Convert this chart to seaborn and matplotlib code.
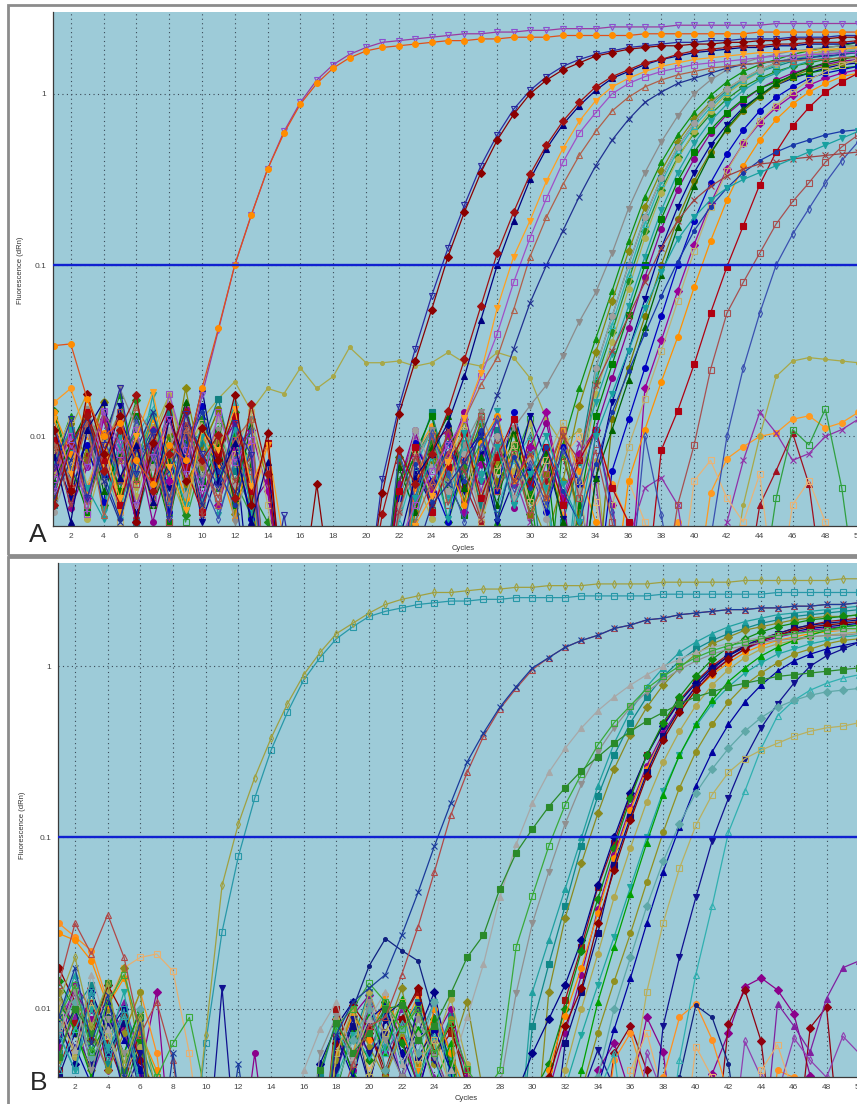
import numpy as np
import matplotlib
matplotlib.use("Agg")
import matplotlib.pyplot as plt
from matplotlib.patches import Rectangle
from matplotlib.ticker import MultipleLocator, FixedLocator, LogLocator, NullFormatter
import seaborn as sns

# values are log10(dRn) * 100; -300 means below the axis
# ---------------- panel A ----------------
a01 = [-147, -146, -178, -200, -192, -214, -228, -205, -214, -172,
       -137, -100, -71, -44, -23, -6, 6, 15, 21, 25,
       27, 28, 29, 30, 31, 31, 32, 32, 33, 33,
       33, 34, 34, 34, 34, 34, 35, 35, 35, 35,
       35, 35, 35, 36, 36, 36, 36, 36, 36, 36]
a02 = [-232, -205, -218, -186, -204, -240, -212, -190, -222, -176,
       -138, -100, -71, -44, -22, -5, 8, 17, 23, 27,
       30, 31, 32, 33, 34, 35, 35, 36, 36, 37,
       37, 38, 38, 38, 39, 39, 39, 39, 40, 40,
       40, 40, 40, 40, 41, 41, 41, 41, 41, 41]
a03 = [-196, -232, -175, -210, -188, -250, -204, -182, -226, -195,
       -214, -176, -240, -198, -300, -300, -228, -300, -300, -300,
       -233, -187, -156, -126, -95, -69, -46, -27, -12, 0,
       8, 14, 18, 22, 24, 26, 27, 28, 28, 29,
       29, 30, 30, 31, 31, 32, 32, 32, 33, 33]
a04 = [-218, -190, -236, -205, -172, -222, -198, -248, -187, -210,
       -230, -192, -211, -300, -246, -300, -300, -300, -300, -300,
       -225, -183, -149, -118, -90, -65, -42, -24, -9, 2,
       10, 16, 20, 23, 25, 27, 28, 29, 30, 30,
       31, 31, 32, 32, 32, 33, 33, 33, 34, 34]
a05 = [-240, -205, -188, -220, -196, -176, -232, -210, -186, -214,
       -199, -236, -181, -222, -300, -300, -300, -260, -300, -300,
       -245, -208, -228, -210, -185, -155, -124, -93, -69, -47,
       -30, -16, -5, 4, 10, 14, 18, 20, 23, 25,
       26, 27, 28, 28, 29, 29, 30, 30, 30, 31]
a06 = [-212, -250, -196, -180, -224, -205, -238, -190, -214, -172,
       -226, -204, -250, -215, -300, -300, -300, -300, -300, -300,
       -300, -262, -224, -210, -192, -165, -132, -100, -74, -50,
       -32, -18, -7, 2, 9, 13, 17, 20, 22, 24,
       25, 26, 27, 27, 28, 28, 29, 29, 29, 30]
a07 = [-190, -222, -178, -205, -236, -200, -174, -218, -243, -196,
       -208, -184, -229, -205, -262, -300, -300, -300, -300, -300,
       -300, -300, -252, -235, -215, -189, -163, -125, -95, -74,
       -51, -32, -16, -4, 4, 9, 13, 16, 18, 20,
       21, 22, 23, 24, 24, 25, 25, 26, 26, 27]
a08 = [-225, -200, -245, -185, -210, -196, -236, -175, -208, -230,
       -186, -215, -202, -300, -300, -300, -300, -300, -300, -300,
       -300, -262, -240, -220, -205, -190, -165, -140, -110, -84,
       -61, -40, -23, -11, 0, 6, 10, 13, 15, 17,
       18, 19, 20, 21, 22, 22, 23, 23, 24, 24]
a09 = [-205, -228, -192, -246, -214, -183, -200, -238, -196, -215,
       -240, -202, -190, -300, -300, -300, -300, -300, -300, -300,
       -300, -300, -250, -226, -210, -190, -170, -154, -126, -95,
       -72, -53, -36, -22, -10, -2, 4, 8, 11, 13,
       15, 16, 17, 18, 19, 19, 20, 20, 21, 21]
a10 = [-236, -214, -192, -226, -250, -208, -186, -220, -198, -240,
       -214, -232, -300, -300, -300, -300, -300, -300, -300, -300,
       -300, -300, -270, -240, -228, -215, -200, -176, -149, -122,
       -100, -80, -60, -42, -27, -15, -5, 1, 6, 9,
       12, 15, 17, 18, 19, 20, 21, 22, 23, 24]
a11 = [-220, -195, -175, -205, -186, -230, -198, -176, -212, -190,
       -178, -168, -185, -172, -175, -160, -172, -165, -148, -157,
       -157, -156, -159, -157, -151, -157, -159, -151, -154, -166,
       -190, -205, -196, -226, -300, -300, -300, -300, -300, -300,
       -300, -300, -300, -300, -300, -300, -300, -300, -300, -300]
a12 = [-200, -226, -184, -210, -172, -195, -240, -206, -188, -224,
       -196, -250, -212, -300, -300, -300, -300, -300, -300, -300,
       -300, -246, -214, -196, -228, -205, -186, -212, -195, -182,
       -170, -153, -133, -116, -93, -67, -46, -28, -13, 0,
       8, 14, 18, 21, 23, 25, 26, 27, 28, 28]
a13 = [-214, -188, -236, -200, -176, -225, -196, -244, -205, -182,
       -230, -198, -215, -300, -300, -300, -300, -300, -300, -300,
       -300, -226, -205, -240, -196, -218, -185, -250, -210, -232,
       -300, -205, -172, -143, -115, -86, -60, -40, -24, -11,
       -1, 7, 13, 17, 20, 23, 25, 27, 28, 30]
a14 = [-196, -232, -207, -180, -240, -214, -188, -226, -172, -218,
       -203, -245, -190, -226, -300, -300, -300, -300, -300, -300,
       -300, -300, -236, -206, -228, -190, -244, -214, -198, -236,
       -260, -226, -182, -151, -121, -92, -66, -45, -28, -15,
       -5, 3, 9, 14, 18, 21, 23, 25, 26, 27]
a15 = [-240, -206, -184, -222, -198, -250, -211, -186, -232, -204,
       -178, -220, -242, -300, -300, -300, -300, -300, -300, -300,
       -300, -240, -214, -186, -222, -204, -240, -196, -228, -212,
       -300, -250, -215, -160, -130, -100, -72, -49, -31, -17,
       -6, 2, 8, 13, 16, 19, 21, 23, 24, 25]
a16 = [-185, -218, -196, -240, -210, -179, -226, -200, -246, -190,
       -214, -186, -232, -250, -300, -300, -300, -300, -300, -300,
       -300, -212, -236, -202, -250, -218, -192, -230, -206, -245,
       -300, -300, -228, -168, -139, -109, -80, -56, -37, -23,
       -12, -3, 4, 9, 13, 16, 18, 20, 21, 22]
a17 = [-222, -196, -248, -212, -188, -235, -204, -176, -218, -240,
       -199, -230, -206, -300, -300, -300, -300, -300, -300, -300,
       -300, -300, -224, -248, -210, -188, -236, -204, -220, -192,
       -240, -300, -232, -175, -145, -114, -84, -58, -38, -22,
       -10, 0, 7, 13, 17, 20, 23, 25, 27, 28]
a18 = [-200, -242, -218, -190, -226, -204, -250, -215, -184, -236,
       -208, -192, -240, -226, -300, -300, -300, -300, -300, -300,
       -300, -228, -196, -234, -210, -186, -226, -200, -242, -215,
       -192, -236, -300, -196, -166, -137, -107, -79, -56, -38,
       -23, -12, -4, 3, 8, 12, 15, 17, 19, 20]
a19 = [-230, -210, -186, -244, -200, -222, -176, -238, -212, -196,
       -246, -215, -190, -300, -300, -300, -300, -300, -300, -300,
       -300, -300, -250, -212, -236, -204, -222, -185, -240, -210,
       -230, -300, -212, -180, -152, -124, -95, -68, -46, -29,
       -16, -6, 2, 8, 12, 16, 19, 21, 23, 24]
a20 = [-210, -236, -198, -224, -182, -246, -206, -230, -194, -250,
       -220, -204, -300, -300, -300, -300, -300, -300, -300, -300,
       -300, -300, -220, -240, -196, -232, -210, -250, -226, -188,
       -214, -248, -300, -225, -180, -150, -120, -90, -66, -46,
       -30, -18, -8, -1, 5, 9, 12, 15, 17, 18]
a21 = [-190, -216, -244, -200, -232, -188, -214, -250, -204, -226,
       -196, -240, -218, -300, -300, -300, -300, -300, -300, -300,
       -300, -236, -210, -188, -228, -246, -202, -220, -196, -236,
       -212, -300, -240, -188, -158, -129, -100, -73, -51, -34,
       -21, -11, -3, 3, 7, 10, 12, 14, 15, 16]
a22 = [-236, -192, -214, -180, -226, -204, -240, -198, -228, -208,
       -184, -212, -236, -300, -300, -300, -300, -300, -300, -300,
       -300, -300, -244, -216, -200, -238, -190, -226, -212, -246,
       -222, -198, -250, -300, -190, -160, -130, -100, -73, -51,
       -34, -21, -10, -2, 5, 10, 14, 16, 18, 19]
a23 = [-204, -228, -192, -214, -246, -200, -184, -222, -206, -238,
       -214, -180, -226, -300, -300, -300, -300, -300, -300, -300,
       -300, -250, -218, -196, -234, -208, -190, -242, -214, -200,
       -236, -300, -226, -165, -135, -105, -76, -52, -33, -19,
       -8, 1, 8, 13, 17, 20, 22, 24, 25, 26]
a24 = [-218, -200, -236, -190, -212, -250, -196, -226, -186, -214,
       -240, -208, -196, -232, -300, -300, -300, -300, -300, -300,
       -300, -300, -212, -232, -198, -244, -216, -190, -228, -206,
       -186, -238, -210, -196, -240, -300, -172, -144, -115, -88,
       -64, -44, -29, -17, -8, -1, 5, 9, 12, 14]
a25 = [-196, -222, -205, -238, -188, -216, -200, -244, -210, -182,
       -226, -202, -248, -300, -300, -300, -300, -300, -300, -300,
       -300, -236, -204, -226, -250, -212, -198, -232, -186, -220,
       -244, -206, -228, -300, -220, -190, -160, -130, -100, -74,
       -52, -35, -21, -10, -2, 4, 9, 12, 14, 16]
a26 = [-186, -210, -232, -198, -244, -220, -190, -208, -236, -200,
       -216, -248, -204, -300, -300, -300, -300, -300, -300, -300,
       -300, -300, -230, -198, -216, -240, -204, -188, -226, -212,
       -236, -196, -220, -250, -300, -226, -196, -168, -142, -113,
       -86, -62, -42, -27, -15, -6, 1, 6, 10, 12]
a27 = [-226, -204, -186, -232, -210, -196, -240, -214, -180, -228,
       -206, -236, -194, -300, -300, -300, -300, -300, -300, -300,
       -300, -218, -244, -206, -188, -230, -212, -240, -196, -224,
       -208, -250, -300, -224, -196, -167, -136, -106, -78, -54,
       -35, -20, -9, -1, 6, 11, 15, 18, 20, 22]
a28 = [-210, -190, -228, -204, -250, -218, -200, -236, -212, -192,
       -232, -210, -186, -240, -300, -300, -300, -300, -300, -300,
       -300, -300, -208, -236, -214, -196, -250, -220, -205, -238,
       -214, -192, -226, -300, -240, -206, -178, -150, -121, -92,
       -66, -45, -29, -16, -7, 1, 8, 13, 17, 20]
a29 = [-244, -215, -198, -226, -190, -240, -218, -196, -234, -210,
       -190, -228, -210, -300, -300, -300, -300, -300, -300, -300,
       -300, -240, -196, -218, -232, -210, -246, -200, -236, -214,
       -248, -300, -232, -160, -130, -100, -72, -49, -31, -17,
       -6, 3, 9, 14, 18, 21, 23, 24, 25, 26]
a30 = [-202, -230, -186, -214, -240, -206, -226, -190, -218, -244,
       -210, -188, -232, -204, -300, -300, -300, -300, -300, -300,
       -300, -232, -206, -244, -218, -198, -236, -212, -190, -228,
       -206, -240, -214, -196, -230, -250, -300, -208, -185, -158,
       -128, -101, -77, -53, -34, -19, -8, 1, 7, 12]
a31 = [-220, -196, -240, -210, -186, -228, -204, -250, -196, -214,
       -236, -202, -220, -300, -300, -300, -300, -300, -300, -300,
       -300, -300, -226, -200, -240, -214, -188, -232, -210, -246,
       -222, -196, -236, -208, -250, -300, -300, -300, -240, -205,
       -161, -128, -110, -93, -76, -63, -52, -40, -31, -24]
a32 = [-196, -218, -236, -200, -226, -190, -212, -238, -204, -226,
       -248, -214, -196, -300, -300, -300, -300, -300, -300, -300,
       -300, -210, -236, -198, -222, -250, -206, -190, -230, -216,
       -240, -208, -226, -196, -244, -300, -200, -246, -300, -300,
       -260, -200, -160, -128, -100, -82, -67, -52, -39, -28]
a33 = [-230, -206, -190, -222, -248, -214, -196, -236, -208, -186,
       -220, -240, -206, -300, -300, -300, -300, -300, -300, -300,
       -300, -300, -216, -238, -204, -226, -196, -248, -212, -230,
       -206, -232, -250, -216, -186, -162, -140, -118, -98, -80,
       -66, -55, -46, -39, -34, -30, -27, -24, -22, -21]
a34 = [-206, -240, -214, -188, -226, -200, -236, -218, -192, -246,
       -200, -226, -212, -300, -300, -300, -300, -300, -300, -300,
       -300, -244, -212, -230, -196, -220, -248, -204, -226, -210,
       -236, -200, -214, -170, -150, -130, -110, -90, -74, -62,
       -54, -48, -44, -41, -40, -38, -37, -36, -35, -34]
a35 = [-214, -196, -230, -248, -206, -222, -188, -210, -240, -200,
       -226, -196, -242, -300, -300, -300, -300, -300, -300, -300,
       -300, -300, -236, -212, -248, -198, -226, -206, -240, -222,
       -200, -228, -250, -200, -175, -150, -125, -104, -85, -72,
       -62, -55, -50, -46, -42, -38, -34, -30, -26, -22]
a36 = [-180, -172, -200, -216, -196, -226, -190, -208, -236, -214,
       -196, -220, -240, -205, -300, -300, -300, -300, -300, -300,
       -300, -236, -210, -194, -226, -204, -240, -216, -196, -230,
       -208, -246, -214, -198, -228, -250, -300, -262, -250, -300,
       -233, -213, -206, -200, -198, -190, -188, -195, -192, -186]
a37 = [-222, -196, -230, -208, -244, -190, -214, -236, -200, -226,
       -210, -192, -238, -300, -300, -300, -300, -300, -300, -300,
       -300, -228, -200, -246, -212, -190, -232, -206, -222, -250,
       -214, -236, -204, -226, -300, -260, -230, -224, -240, -300,
       -300, -250, -214, -186, -198, -214, -210, -200, -196, -190]
a38 = [-200, -228, -214, -186, -236, -210, -194, -222, -246, -204,
       -186, -216, -232, -300, -300, -300, -300, -300, -300, -300,
       -300, -300, -240, -212, -226, -198, -236, -218, -204, -244,
       -226, -208, -250, -214, -300, -300, -300, -300, -300, -300,
       -300, -300, -240, -200, -165, -156, -154, -155, -156, -157]
a39 = [-190, -236, -210, -226, -198, -246, -214, -186, -230, -206,
       -222, -200, -240, -300, -300, -300, -300, -300, -300, -300,
       -300, -214, -238, -204, -196, -228, -250, -210, -236, -200,
       -226, -212, -244, -300, -300, -300, -300, -300, -300, -300,
       -300, -300, -300, -240, -220, -198, -228, -300, -300, -300]
a40 = [-236, -214, -196, -226, -206, -240, -218, -200, -228, -196,
       -212, -238, -224, -300, -300, -300, -300, -300, -300, -300,
       -300, -240, -222, -204, -236, -214, -196, -230, -208, -246,
       -230, -212, -200, -238, -300, -226, -250, -300, -300, -226,
       -214, -236, -250, -222, -300, -240, -226, -250, -300, -300]
a41 = [-206, -224, -186, -240, -212, -198, -230, -208, -250, -214,
       -194, -226, -246, -300, -300, -300, -300, -300, -300, -300,
       -300, -226, -212, -196, -240, -222, -204, -232, -214, -190,
       -236, -210, -244, -300, -300, -300, -300, -300, -300, -300,
       -300, -300, -300, -300, -236, -196, -205, -184, -230, -300]

# ---------------- panel B ----------------
b01 = [-196, -170, -210, -185, -232, -205, -250, -300, -300, -215,
       -128, -92, -65, -42, -22, -5, 8, 19, 25, 31,
       36, 39, 41, 43, 43, 44, 45, 45, 46, 46,
       47, 47, 47, 48, 48, 48, 48, 49, 49, 49,
       49, 49, 50, 50, 50, 50, 50, 50, 51, 51]
b02 = [-215, -236, -190, -226, -200, -250, -300, -300, -300, -220,
       -155, -111, -77, -49, -27, -8, 5, 16, 23, 29,
       32, 34, 36, 37, 38, 38, 39, 39, 40, 40,
       40, 40, 41, 41, 41, 41, 41, 42, 42, 42,
       42, 42, 42, 42, 43, 43, 43, 43, 43, 43]
b03 = [-205, -176, -220, -192, -240, -208, -300, -226, -300, -250,
       -300, -232, -300, -300, -300, -242, -300, -215, -196, -188,
       -180, -157, -132, -105, -80, -56, -39, -24, -12, -1,
       5, 11, 15, 18, 22, 24, 27, 28, 30, 31,
       32, 33, 33, 34, 34, 35, 35, 36, 36, 37]
b04 = [-186, -150, -168, -145, -170, -215, -196, -230, -300, -300,
       -300, -300, -300, -300, -300, -300, -300, -260, -232, -210,
       -205, -180, -152, -120, -87, -62, -41, -25, -13, -2,
       5, 11, 15, 18, 22, 24, 27, 28, 30, 31,
       32, 33, 33, 34, 34, 35, 35, 36, 36, 37]
b05 = [-228, -200, -214, -185, -236, -205, -300, -300, -250, -300,
       -300, -300, -300, -300, -300, -300, -236, -208, -226, -214,
       -200, -198, -218, -210, -191, -170, -157, -130, -109, -95,
       -82, -71, -61, -53, -45, -38, -32, -27, -22, -18,
       -15, -12, -10, -8, -6, -5, -4, -3, -2, -1]
b06 = [-205, -186, -225, -196, -180, -214, -240, -220, -205, -250,
       -300, -300, -300, -300, -300, -300, -300, -210, -200, -185,
       -196, -212, -200, -226, -208, -235, -250, -236, -164, -134,
       -105, -81, -63, -46, -33, -23, -13, -6, 0, 5,
       9, 12, 14, 16, 18, 19, 20, 21, 22, 22]
b07 = [-214, -190, -236, -206, -226, -250, -300, -300, -300, -300,
       -300, -300, -300, -300, -300, -300, -226, -204, -232, -196,
       -218, -240, -206, -228, -250, -300, -300, -246, -191, -150,
       -120, -92, -69, -50, -36, -24, -15, -8, -2, 3,
       7, 10, 12, 14, 15, 16, 17, 18, 18, 19]
b08 = [-196, -224, -180, -212, -240, -205, -300, -300, -300, -300,
       -300, -300, -300, -300, -300, -236, -212, -196, -228, -206,
       -190, -232, -214, -246, -236, -205, -174, -135, -104, -80,
       -62, -48, -36, -26, -18, -11, -5, 0, 4, 8,
       11, 13, 15, 17, 18, 19, 20, 21, 21, 22]
b09 = [-206, -180, -224, -196, -214, -238, -300, -300, -300, -300,
       -300, -300, -300, -300, -300, -300, -300, -214, -236, -200,
       -222, -196, -244, -210, -228, -250, -300, -300, -300, -190,
       -160, -130, -100, -70, -45, -26, -12, -1, 8, 14,
       19, 23, 26, 28, 30, 31, 32, 33, 34, 35]
b10 = [-226, -200, -186, -232, -204, -220, -246, -300, -300, -300,
       -300, -300, -300, -300, -300, -300, -240, -206, -218, -190,
       -236, -212, -196, -230, -204, -246, -300, -300, -300, -210,
       -174, -140, -105, -76, -52, -33, -18, -6, 3, 10,
       15, 19, 22, 25, 27, 29, 30, 31, 32, 33]
b11 = [-190, -214, -236, -200, -176, -228, -250, -300, -300, -300,
       -300, -300, -300, -300, -300, -300, -300, -226, -204, -240,
       -214, -188, -232, -206, -226, -196, -250, -300, -300, -300,
       -190, -147, -115, -86, -60, -40, -24, -11, -1, 7,
       13, 17, 21, 23, 25, 27, 28, 29, 29, 30]
b12 = [-236, -208, -196, -220, -244, -212, -300, -300, -300, -300,
       -300, -300, -300, -300, -300, -300, -300, -200, -226, -212,
       -240, -206, -190, -228, -214, -236, -300, -300, -300, -300,
       -246, -195, -164, -129, -103, -75, -52, -34, -20, -9,
       0, 7, 12, 16, 19, 22, 24, 26, 27, 28]
b13 = [-208, -232, -190, -214, -200, -236, -300, -300, -300, -300,
       -300, -300, -300, -300, -300, -300, -232, -210, -196, -244,
       -206, -226, -214, -190, -238, -300, -300, -300, -250, -226,
       -206, -186, -160, -128, -100, -74, -52, -35, -21, -10,
       -1, 6, 11, 15, 18, 20, 22, 23, 24, 25]
b14 = [-184, -200, -226, -206, -248, -218, -300, -300, -300, -300,
       -300, -300, -300, -300, -300, -300, -300, -248, -212, -230,
       -196, -220, -244, -206, -232, -300, -300, -300, -300, -250,
       -232, -200, -166, -136, -106, -77, -52, -33, -18, -6,
       4, 11, 16, 20, 23, 25, 27, 28, 29, 30]
b15 = [-222, -190, -206, -196, -214, -240, -300, -300, -300, -300,
       -300, -300, -226, -300, -300, -300, -300, -214, -236, -198,
       -226, -210, -246, -218, -200, -240, -300, -300, -300, -300,
       -248, -214, -180, -142, -110, -82, -58, -39, -24, -12,
       -3, 4, 10, 14, 17, 19, 21, 22, 23, 24]
b16 = [-156, -160, -172, -198, -182, -214, -236, -300, -300, -300,
       -300, -300, -300, -300, -300, -300, -300, -226, -204, -218,
       -192, -214, -236, -200, -226, -250, -300, -300, -300, -300,
       -236, -204, -176, -144, -112, -84, -60, -41, -26, -14,
       -5, 2, 8, 12, 15, 17, 19, 20, 21, 22]
b17 = [-240, -214, -198, -226, -208, -250, -300, -300, -300, -300,
       -300, -300, -300, -300, -300, -300, -300, -232, -210, -244,
       -204, -196, -228, -212, -236, -300, -300, -300, -300, -300,
       -300, -220, -190, -156, -116, -88, -62, -41, -25, -12,
       -2, 6, 12, 16, 19, 22, 24, 25, 26, 27]
b18 = [-200, -228, -214, -190, -236, -222, -300, -300, -300, -300,
       -300, -300, -300, -300, -300, -300, -300, -206, -226, -190,
       -216, -240, -204, -222, -194, -232, -300, -300, -300, -300,
       -300, -236, -200, -168, -135, -106, -79, -56, -38, -23,
       -11, -2, 5, 10, 13, 15, 17, 18, 19, 20]
b19 = [-176, -196, -218, -186, -204, -230, -250, -300, -300, -300,
       -300, -300, -300, -300, -300, -300, -300, -220, -198, -212,
       -236, -206, -188, -226, -210, -246, -300, -300, -300, -300,
       -240, -210, -188, -150, -119, -90, -64, -43, -27, -14,
       -4, 4, 10, 15, 18, 21, 23, 24, 25, 26]
b20 = [-214, -236, -200, -222, -190, -246, -300, -300, -300, -300,
       -300, -300, -300, -300, -300, -300, -300, -240, -215, -228,
       -200, -232, -218, -196, -240, -300, -300, -300, -300, -300,
       -300, -246, -215, -186, -158, -129, -100, -73, -52, -35,
       -22, -12, -4, 2, 7, 10, 13, 15, 17, 18]
b21 = [-196, -212, -240, -206, -226, -200, -300, -300, -300, -300,
       -300, -300, -300, -300, -300, -300, -300, -210, -238, -204,
       -226, -194, -212, -244, -220, -300, -300, -300, -300, -300,
       -300, -300, -236, -196, -164, -133, -103, -75, -52, -34,
       -20, -9, -1, 6, 11, 15, 18, 21, 23, 24]
b22 = [-230, -196, -210, -236, -214, -190, -300, -300, -300, -300,
       -300, -300, -300, -300, -300, -300, -300, -230, -200, -222,
       -240, -214, -198, -232, -206, -300, -300, -300, -300, -300,
       -300, -300, -248, -214, -184, -156, -126, -97, -71, -50,
       -34, -21, -11, -4, 2, 7, 10, 13, 15, 16]
b23 = [-206, -222, -244, -196, -218, -236, -300, -300, -300, -300,
       -300, -300, -300, -300, -300, -300, -300, -216, -240, -206,
       -198, -226, -250, -212, -236, -300, -300, -300, -300, -300,
       -300, -300, -300, -246, -212, -182, -150, -120, -94, -70,
       -50, -34, -21, -11, -3, 3, 7, 10, 12, 14]
b24 = [-218, -200, -232, -210, -250, -226, -300, -300, -300, -300,
       -188, -300, -300, -300, -300, -300, -300, -236, -206, -226,
       -214, -240, -198, -230, -252, -300, -300, -300, -300, -300,
       -300, -300, -250, -224, -246, -300, -300, -210, -170, -135,
       -102, -77, -54, -36, -22, -10, 0, 6, 10, 14]
b25 = [-236, -212, -190, -226, -204, -244, -300, -300, -300, -300,
       -300, -300, -300, -300, -300, -300, -300, -212, -230, -196,
       -226, -208, -240, -216, -300, -300, -300, -300, -300, -300,
       -300, -300, -300, -250, -226, -300, -300, -300, -230, -180,
       -140, -97, -73, -48, -29, -20, -14, -10, -7, -5]
b26 = [-210, -196, -228, -214, -242, -200, -300, -300, -300, -300,
       -300, -300, -300, -300, -300, -300, -300, -244, -218, -200,
       -236, -212, -226, -196, -250, -300, -300, -300, -300, -300,
       -300, -300, -300, -240, -200, -170, -140, -114, -92, -74,
       -60, -48, -38, -30, -24, -20, -17, -15, -14, -13]
b27 = [-204, -226, -196, -216, -238, -206, -300, -300, -300, -300,
       -300, -300, -300, -300, -300, -300, -300, -226, -200, -240,
       -214, -196, -232, -218, -246, -300, -300, -300, -300, -300,
       -300, -300, -300, -300, -300, -250, -190, -150, -118, -93,
       -75, -62, -54, -49, -45, -41, -38, -36, -35, -33]
b28 = [-214, -186, -200, -226, -210, -236, -190, -300, -300, -300,
       -300, -300, -300, -300, -300, -300, -300, -228, -204, -192,
       -214, -240, -200, -226, -250, -300, -300, -300, -300, -300,
       -300, -300, -300, -236, -220, -250, -205, -225, -300, -300,
       -238, -214, -187, -182, -189, -203, -239, -300, -300, -300]
b29 = [-200, -224, -188, -236, -206, -220, -300, -300, -300, -300,
       -300, -300, -300, -300, -300, -300, -300, -206, -232, -214,
       -196, -218, -244, -208, -230, -300, -300, -300, -300, -300,
       -300, -300, -300, -300, -226, -210, -236, -300, -300, -300,
       -300, -209, -189, -219, -300, -300, -211, -199, -300, -300]
b30 = [-226, -204, -240, -214, -196, -230, -300, -300, -300, -300,
       -300, -300, -300, -300, -300, -300, -300, -214, -236, -206,
       -224, -200, -216, -240, -300, -300, -300, -300, -300, -300,
       -300, -300, -300, -300, -300, -300, -300, -300, -300, -300,
       -300, -300, -300, -300, -197, -210, -225, -194, -176, -172]
b31 = [-150, -158, -166, -196, -214, -190, -226, -300, -300, -300,
       -300, -300, -300, -300, -300, -300, -300, -210, -226, -200,
       -236, -214, -192, -226, -208, -300, -300, -300, -300, -300,
       -300, -300, -300, -300, -230, -214, -246, -240, -205, -197,
       -218, -250, -300, -300, -236, -240, -300, -300, -300, -300]
b32 = [-190, -212, -236, -204, -226, -200, -300, -300, -300, -300,
       -300, -300, -300, -300, -300, -300, -300, -230, -200, -175,
       -159, -166, -172, -205, -236, -300, -300, -300, -300, -300,
       -300, -300, -300, -300, -300, -300, -300, -300, -240, -198,
       -205, -232, -300, -300, -300, -300, -300, -300, -300, -300]
b33 = [-206, -190, -214, -236, -200, -226, -300, -300, -300, -300,
       -300, -300, -300, -300, -300, -300, -300, -236, -210, -226,
       -200, -242, -218, -196, -226, -300, -300, -300, -300, -300,
       -300, -300, -300, -300, -300, -300, -226, -250, -300, -300,
       -300, -300, -219, -240, -250, -217, -230, -240, -216, -226]
b34 = [-200, -186, -208, -196, -176, -170, -168, -178, -226, -300,
       -300, -300, -300, -300, -300, -300, -300, -226, -204, -236,
       -214, -196, -230, -210, -246, -300, -300, -300, -300, -300,
       -300, -300, -300, -300, -300, -236, -214, -250, -300, -222,
       -240, -300, -300, -236, -221, -250, -300, -300, -300, -300]

# (values, marker colour, marker, filled, line colour)
a_series = [
    (a11, '#A8A848', 'o', True, None), (a36, '#FF9A20', 'o', True, None),
    (a37, '#9030A8', 'x', True, None), (a38, '#A8A848', 'o', True, None),
    (a39, '#A01020', '^', True, None), (a40, '#E8B478', 's', False, None),
    (a41, '#30A040', 's', False, None),
    (a13, '#109010', '^', True, None), (a14, '#8A8A10', 'D', True, None),
    (a15, '#108080', 's', True, None), (a16, '#1E8C1E', 'D', True, None),
    (a17, '#B0B050', 'o', True, None), (a18, '#8B008B', 'o', True, None),
    (a19, '#20A0A0', 'v', True, None), (a20, '#000090', 'v', True, None),
    (a21, '#008000', 's', True, None), (a22, '#7A7A00', 'o', True, None),
    (a23, '#30B0B0', '^', False, None), (a24, '#990099', 'D', True, None),
    (a25, '#0000C0', 'o', True, None), (a26, '#FF9000', 'o', True, None),
    (a27, '#006400', '^', True, None), (a28, '#C0B070', 's', False, None),
    (a29, '#A0A0A0', 'o', True, None), (a12, '#8C8C8C', 'v', True, None),
    (a30, '#B00010', 's', True, None), (a31, '#A85050', 's', False, None),
    (a32, '#3A50B0', 'd', False, None), (a33, '#1838A8', 'o', True, None),
    (a34, '#A04040', 'x', True, None), (a35, '#18A0A0', 'v', True, None),
    (a10, '#203090', 'x', True, None), (a09, '#B0604A', '^', False, None),
    (a08, '#A050C8', 's', False, None), (a07, '#FFA020', 'v', True, None),
    (a06, '#000080', '^', True, None), (a05, '#A01010', 'D', True, None),
    (a04, '#2A2AA0', 'v', False, None), (a03, '#8B0000', 'D', True, None),
    (a02, '#8A4FD0', 'v', False, '#9A3AA0'), (a01, '#FF8C00', 'o', True, '#E0501A'),
]
b_series = [
    (b28, '#8B008B', 'D', True, None), (b29, '#900010', 'D', True, None),
    (b30, '#8020A0', '^', True, None), (b31, '#FF9020', 'o', True, None),
    (b32, '#102080', 'o', True, None), (b33, '#9040B0', 'd', False, None),
    (b34, '#E8B070', 's', False, None),
    (b09, '#20A0A0', '^', True, None), (b10, '#108888', 's', True, None),
    (b11, '#8A8A20', 'D', True, None), (b12, '#A01010', 's', True, None),
    (b13, '#000088', 'D', True, None), (b14, '#108A10', 'D', True, None),
    (b15, '#8B008B', 'o', True, None), (b16, '#FF8C00', 'o', True, None),
    (b17, '#0A0A80', 's', True, None), (b18, '#B0A850', 'o', True, None),
    (b19, '#8B0000', 'D', True, None), (b20, '#20A8A0', 'v', True, None),
    (b21, '#00A000', '^', True, None), (b22, '#909020', 'o', True, None),
    (b23, '#0000A0', '^', True, None), (b24, '#101090', 'v', True, None),
    (b25, '#30B0B0', '^', False, None), (b26, '#5FA8A8', 'D', True, None),
    (b27, '#B8B060', 's', False, None), (b07, '#909090', 'v', True, None),
    (b08, '#A8A8A8', '^', True, None), (b06, '#3AAA3A', 's', False, None),
    (b05, '#2A8A2A', 's', True, None), (b04, '#B04848', '^', False, None),
    (b03, '#1A3A9A', 'x', True, None), (b02, '#2898A8', 's', False, None),
    (b01, '#A0A040', 'd', False, None),
]

sns.set_theme(style="white")
plt.rcParams['font.family'] = ['Liberation Sans', 'DejaVu Sans']

W, H = 857, 1104
BG = '#9DCBD8'
MS = {'o': 4.2, 'D': 3.6, 'd': 4.2, '^': 4.4, 'v': 4.4, 's': 4.0, 'x': 4.0}


def draw_panel(ax, series, xlim, ylim):
    ax.set_facecolor(BG)
    ax.set_yscale('log')
    for vals, color, marker, filled, line in series:
        y = 10.0 ** (np.array(vals, dtype=float) / 100.0)
        x = np.arange(1, len(y) + 1)
        ms = MS[marker]
        if color in ('#A8A848', '#1838A8', '#102080') and marker == 'o':
            ms = 2.8
        sns.lineplot(x=x, y=y, ax=ax, estimator=None, errorbar=None, sort=False,
                     color=line or color, linewidth=0.9, marker=marker,
                     markersize=ms, markerfacecolor=color if filled else 'none',
                     markeredgecolor=color, markeredgewidth=0.8, legend=False)
    ax.axhline(0.1, color='#1020D0', lw=1.7, zorder=5)
    ax.set_xlim(*xlim)
    ax.set_ylim(*ylim)
    ax.xaxis.set_major_locator(MultipleLocator(2))
    ax.xaxis.set_minor_locator(MultipleLocator(1))
    ax.yaxis.set_major_locator(FixedLocator([0.01, 0.1, 1]))
    ax.yaxis.set_minor_locator(LogLocator(base=10, subs=np.arange(2, 10)))
    ax.yaxis.set_minor_formatter(NullFormatter())
    ax.set_yticklabels(['0.01', '0.1', '1'])
    ax.grid(True, which='major', color='#3A4A58', linestyle=(0, (1, 3)), linewidth=0.8)
    ax.set_axisbelow(True)
    ax.tick_params(which='major', labelsize=6, length=3, width=0.6,
                   colors='#444444', pad=2)
    ax.tick_params(which='minor', length=2, width=0.5, colors='#444444')
    for s in ('top', 'right'):
        ax.spines[s].set_visible(False)
    for s in ('left', 'bottom'):
        ax.spines[s].set_color('#3A3A3A')
        ax.spines[s].set_linewidth(0.9)
    ax.set_xlabel('')
    ax.set_ylabel('')


fig = plt.figure(figsize=(W / 100, H / 100), dpi=100)
fig.patch.set_facecolor('white')

# panel frames
fig.add_artist(Rectangle((8 / W, 1 - 555 / H), 1.2, 550 / H, transform=fig.transFigure,
                         fill=False, ec='#8C8C8C', lw=2.0))
fig.add_artist(Rectangle((8 / W, -0.1), 1.2, (H - 557) / H + 0.1, transform=fig.transFigure,
                         fill=False, ec='#8C8C8C', lw=2.0))

axA = fig.add_axes([53 / W, 1 - 526 / H, 806 / W, 514 / H])
draw_panel(axA, a_series, (0.92, 50.05), (0.003, 3.0))
axB = fig.add_axes([58 / W, 1 - 1077 / H, 802 / W, 514 / H])
draw_panel(axB, b_series, (0.957, 50.05), (0.004, 4.0))

fig.text(38 / W, 1 - 535 / H, 'A', fontsize=19, ha='center', va='center')
fig.text(39 / W, 1 - 1083 / H, 'B', fontsize=19, ha='center', va='center')
fig.text(463 / W, 1 - 548 / H, 'Cycles', fontsize=5.5, ha='center', va='center', color='#333333')
fig.text(466 / W, 1 - 1098 / H, 'Cycles', fontsize=5.5, ha='center', va='center', color='#333333')
fig.text(21 / W, 1 - 270 / H, 'Fluorescence (dRn)', fontsize=5.5, rotation=90,
         ha='center', va='center', color='#333333')
fig.text(23 / W, 1 - 825 / H, 'Fluorescence (dRn)', fontsize=5.5, rotation=90,
         ha='center', va='center', color='#333333')

fig.savefig('out.png', dpi=100)
